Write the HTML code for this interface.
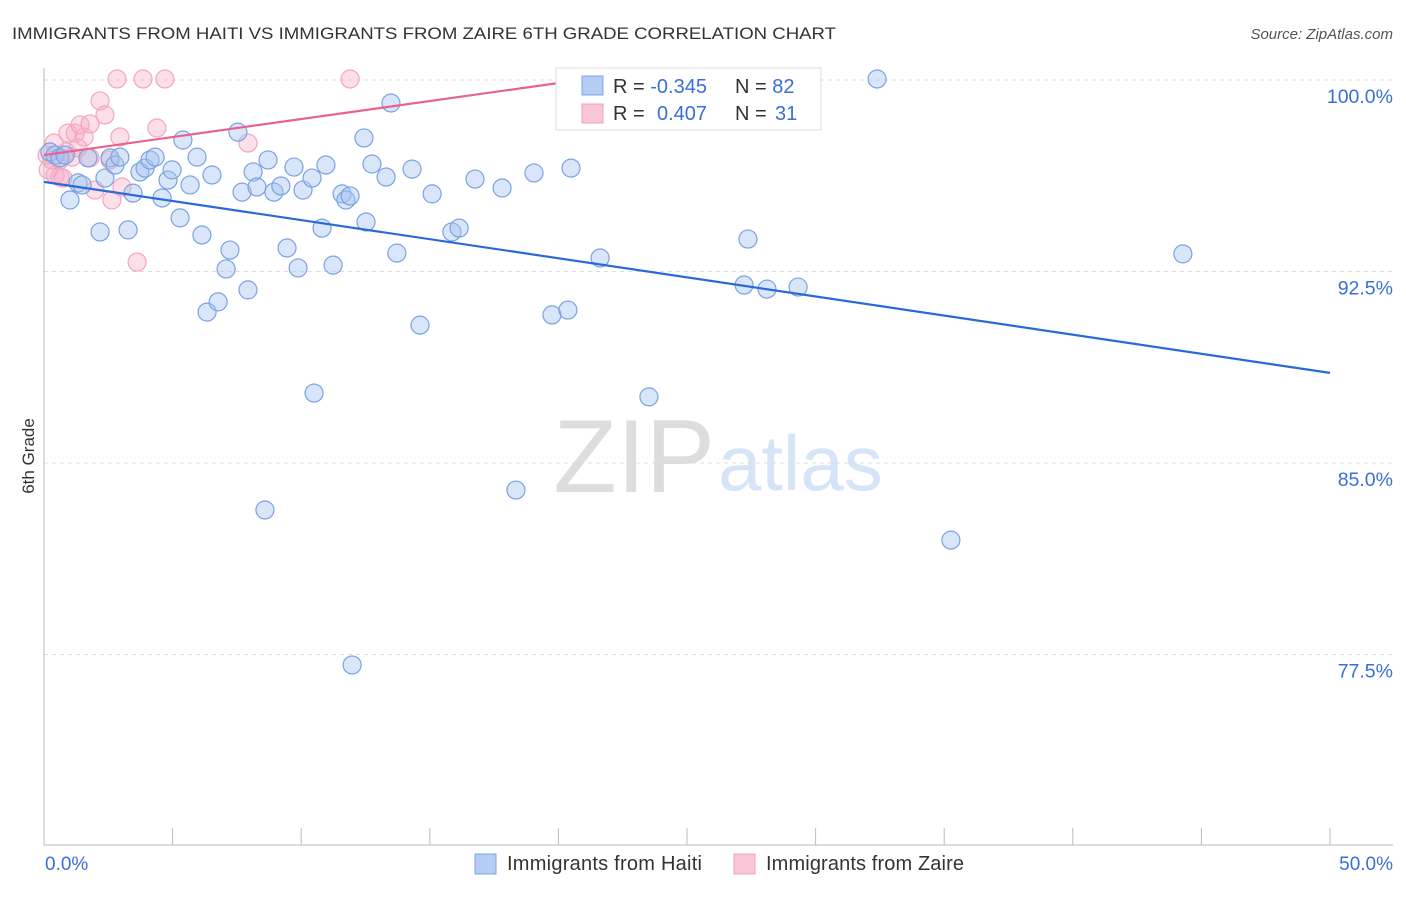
<!DOCTYPE html>
<html><head><meta charset="utf-8"><style>
body{margin:0;background:#fff;font-family:"Liberation Sans",sans-serif;}
svg text{font-family:"Liberation Sans",sans-serif;}
</style></head><body>
<svg id="chart" width="1406" height="892">
<text x="12" y="39" font-size="17" fill="#333" textLength="824" lengthAdjust="spacingAndGlyphs">IMMIGRANTS FROM HAITI VS IMMIGRANTS FROM ZAIRE 6TH GRADE CORRELATION CHART</text>
<text x="1393" y="39" font-size="15" fill="#555" font-style="italic" text-anchor="end">Source: ZipAtlas.com</text>
<text x="715" y="492" font-size="104" font-family="Liberation Serif,serif" fill="#ddd" text-anchor="end">ZIP</text>
<text x="718" y="490" font-size="78" fill="#d6e4f7">atlas</text>
<text transform="translate(34,456) rotate(-90)" font-size="17" fill="#333" text-anchor="middle">6th Grade</text>
<g id="grid"></g><g id="axes"></g><g id="marks"></g>
<g>
<rect x="556" y="68" width="265" height="62" fill="#fff" stroke="#ddd"/>
<rect x="582" y="76" width="21" height="19" fill="#b5cdf5" stroke="#7da4e6"/>
<rect x="582" y="104" width="21" height="19" fill="#f9c6d6" stroke="#f0a0b8"/>
<text x="613" y="93" font-size="20" fill="#333">R = <tspan fill="#3a6fd8">-0.345</tspan></text>
<text x="735" y="93" font-size="20" fill="#333">N = <tspan fill="#3a6fd8">82</tspan></text>
<text x="613" y="120" font-size="20" fill="#333">R = <tspan fill="#3a6fd8" x="657">0.407</tspan></text>
<text x="735" y="120" font-size="20" fill="#333">N = <tspan fill="#3a6fd8" x="775">31</tspan></text>
</g>
<g>
<rect x="475" y="854" width="21" height="20" fill="#b5cdf5" stroke="#7da4e6"/>
<text x="507" y="870" font-size="20" fill="#333" textLength="195">Immigrants from Haiti</text>
<rect x="734" y="854" width="21" height="20" fill="#f9c6d6" stroke="#f0a0b8"/>
<text x="766" y="870" font-size="20" fill="#333" textLength="198">Immigrants from Zaire</text>
</g>
</svg>
<script>
const yTicks=[100,92.5,85,77.5];
const yTickLabels=["100.0%","92.5%","85.0%","77.5%"];
const haitiX=[.23,.43,.62,.82,1.01,1.32,1.48,1.71,2.18,2.37,2.57,2.76,2.95,3.27,3.46,3.73,3.93,4.12,4.32,4.59,4.82,4.98,5.40,5.29,5.68,5.95,6.14,6.34,6.53,6.77,7.08,7.23,7.54,7.70,7.93,8.13,8.28,8.59,8.71,8.94,9.21,9.45,9.72,9.88,10.07,10.42,10.50,10.81,10.96,11.24,11.59,11.74,11.90,11.98,12.44,12.52,12.75,13.30,13.49,13.72,14.31,14.62,15.09,15.86,16.14,16.76,17.81,18.35,19.05,19.75,20.37,20.49,21.62,23.52,27.22,27.37,28.11,29.32,32.39,35.26,44.28];
const haitiY=[97.18,97.06,96.95,97.06,95.30,95.97,95.89,96.95,94.05,96.16,96.95,96.67,96.98,94.13,95.57,96.40,96.55,96.87,96.98,95.38,96.08,96.48,97.65,94.60,95.89,96.98,93.93,90.91,96.28,91.31,92.60,93.34,97.96,95.61,91.78,96.40,95.81,83.16,96.87,95.61,95.85,93.42,96.59,92.64,95.69,96.16,87.74,94.20,96.67,92.75,95.54,95.30,95.46,77.09,97.73,94.44,96.71,96.20,99.10,93.22,96.51,90.40,95.54,94.05,94.20,96.12,95.77,83.94,96.36,90.80,90.99,96.55,93.03,87.59,91.97,93.77,91.81,91.89,100.04,81.98,93.19];
const zaireX=[.39,.16,.43,.62,.74,.93,1.09,1.21,1.40,1.56,1.79,1.98,2.18,2.37,2.57,2.64,2.84,2.95,3.03,3.62,3.85,4.39,4.70,7.93,11.90,.62,1.79,.31,.86,.12,1.32];
const zaireY=[97.53,96.48,96.28,96.20,96.16,97.92,96.98,97.92,98.24,97.77,98.28,95.69,99.18,98.63,96.87,95.30,100.04,97.77,95.81,92.87,100.04,98.12,100.04,97.53,100.04,96.87,96.95,96.87,97.18,97.06,97.34];
const haitiTrend=[[0,96.01],[50,88.53]];
const zaireTrend=[[0,97.06],[20.84,100.0]];
const NS="http://www.w3.org/2000/svg";
const sx=v=>44+v*25.72;
const sy=v=>80+(100-v)*191.5/7.5;
function mk(tag,attrs,parent){const e=document.createElementNS(NS,tag);for(const k in attrs)e.setAttribute(k,attrs[k]);document.getElementById(parent).appendChild(e);return e;}
yTicks.forEach((t,i)=>{
 const l=mk('line',{x1:44,x2:1393,y1:sy(t),y2:sy(t),stroke:'#ddd','stroke-dasharray':'4,4'},'grid');
 
 
 const tx=mk('text',{x:1393,y:sy(t)+23,'font-size':19.5,fill:'#3a6fd8','text-anchor':'end'},'grid');
 tx.textContent=yTickLabels[i];
 
 
});
const a1=mk('line',{x1:44,x2:44,y1:68,y2:845,stroke:'#bbb'},'axes');


const a2=mk('line',{x1:44,x2:1393,y1:845,y2:845,stroke:'#bbb'},'axes');


for(let i=1;i<=10;i++){const tk=mk('line',{x1:sx(i*5),x2:sx(i*5),y1:828,y2:845,stroke:'#bbb'},'axes');
 
 }
const xl=mk('text',{x:45,y:870,'font-size':19,fill:'#3a6fd8'},'axes');xl.textContent='0.0%';


const xr=mk('text',{x:1393,y:870,'font-size':19,fill:'#3a6fd8','text-anchor':'end'},'axes');xr.textContent='50.0%';


zaireX.forEach((x,i)=>{const c=mk('circle',{cx:sx(x),cy:sy(zaireY[i]),r:9,fill:'rgba(246,170,196,0.38)',stroke:'#f2a6bf','stroke-width':1.2},'marks');
 
 });
haitiX.forEach((x,i)=>{const c=mk('circle',{cx:sx(x),cy:sy(haitiY[i]),r:9,fill:'rgba(165,195,240,0.42)',stroke:'#7aa2e2','stroke-width':1.2},'marks');
 
 });
const t1=mk('line',{x1:sx(haitiTrend[0][0]),y1:sy(haitiTrend[0][1]),x2:sx(haitiTrend[1][0]),y2:sy(haitiTrend[1][1]),stroke:'#2a6ad6','stroke-width':2.2},'marks');


const t2=mk('line',{x1:sx(zaireTrend[0][0]),y1:sy(zaireTrend[0][1]),x2:sx(zaireTrend[1][0]),y2:sy(zaireTrend[1][1]),stroke:'#e8628f','stroke-width':2.2},'marks');


</script>
</body></html>
